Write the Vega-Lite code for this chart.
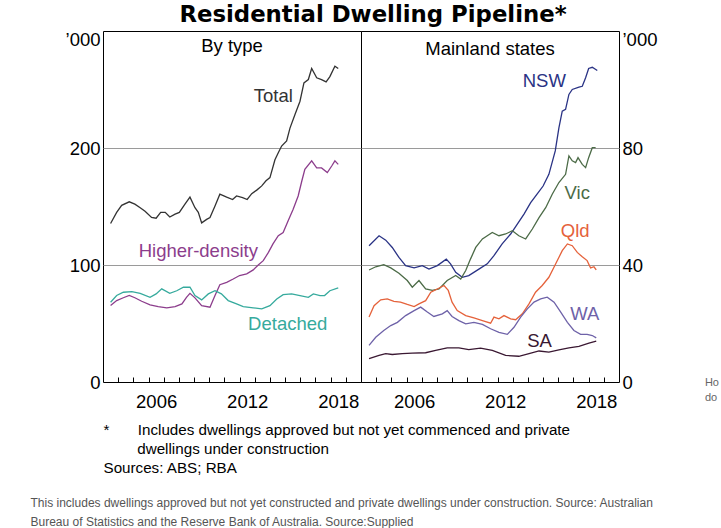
{
  "$schema": "https://vega.github.io/schema/vega-lite/v6.json",
  "background": "white",
  "padding": {"left": 30, "top": 4, "right": 0, "bottom": 0},
  "config": {
    "font": "Liberation Sans",
    "view": {"stroke": "black", "strokeWidth": 1},
    "axis": {"labelFont": "Liberation Sans", "labelFontSize": 18.5, "labelColor": "black", "domain": false, "ticks": false, "grid": false, "titleFont": "Liberation Sans"}
  },
  "datasets": {
    "byType": [
      {"series":"Total","year":2003.5,"value":135.5},{"series":"Total","year":2003.9,"value":145},{"series":"Total","year":2004.23,"value":151},{"series":"Total","year":2004.73,"value":154},{"series":"Total","year":2005.1,"value":152},{"series":"Total","year":2005.45,"value":149},{"series":"Total","year":2005.77,"value":146},{"series":"Total","year":2006.2,"value":140.6},{"series":"Total","year":2006.5,"value":140},{"series":"Total","year":2006.8,"value":145},{"series":"Total","year":2007.1,"value":145},{"series":"Total","year":2007.4,"value":141},{"series":"Total","year":2007.75,"value":143.5},{"series":"Total","year":2008.03,"value":145},{"series":"Total","year":2008.4,"value":152},{"series":"Total","year":2008.73,"value":158},{"series":"Total","year":2009.06,"value":149},{"series":"Total","year":2009.28,"value":145},{"series":"Total","year":2009.5,"value":136},{"series":"Total","year":2009.83,"value":139},{"series":"Total","year":2010.05,"value":140.6},{"series":"Total","year":2010.38,"value":150.5},{"series":"Total","year":2010.7,"value":160.5},{"series":"Total","year":2011.15,"value":158},{"series":"Total","year":2011.54,"value":156},{"series":"Total","year":2011.8,"value":159},{"series":"Total","year":2012.2,"value":157.6},{"series":"Total","year":2012.5,"value":156},{"series":"Total","year":2012.8,"value":161},{"series":"Total","year":2013.13,"value":164},{"series":"Total","year":2013.46,"value":167.6},{"series":"Total","year":2013.74,"value":172},{"series":"Total","year":2014.0,"value":174.7},{"series":"Total","year":2014.33,"value":190},{"series":"Total","year":2014.55,"value":196},{"series":"Total","year":2014.77,"value":201.7},{"series":"Total","year":2015.1,"value":206},{"series":"Total","year":2015.32,"value":217},{"series":"Total","year":2015.65,"value":228.7},{"series":"Total","year":2015.98,"value":240},{"series":"Total","year":2016.24,"value":255.6},{"series":"Total","year":2016.53,"value":258.5},{"series":"Total","year":2016.75,"value":268},{"series":"Total","year":2017.08,"value":260},{"series":"Total","year":2017.4,"value":258.5},{"series":"Total","year":2017.7,"value":256.5},{"series":"Total","year":2017.95,"value":261},{"series":"Total","year":2018.28,"value":270},{"series":"Total","year":2018.5,"value":268},
      {"series":"Higher-density","year":2003.5,"value":65.3},{"series":"Higher-density","year":2003.9,"value":69.6},{"series":"Higher-density","year":2004.34,"value":72},{"series":"Higher-density","year":2004.73,"value":74},{"series":"Higher-density","year":2005.1,"value":72},{"series":"Higher-density","year":2005.55,"value":69},{"series":"Higher-density","year":2006.1,"value":66},{"series":"Higher-density","year":2006.64,"value":64.5},{"series":"Higher-density","year":2007.2,"value":63.4},{"series":"Higher-density","year":2007.75,"value":64.5},{"series":"Higher-density","year":2008.2,"value":66.8},{"series":"Higher-density","year":2008.5,"value":72.4},{"series":"Higher-density","year":2008.73,"value":75.8},{"series":"Higher-density","year":2009.06,"value":71.9},{"series":"Higher-density","year":2009.5,"value":65.3},{"series":"Higher-density","year":2010.05,"value":63.9},{"series":"Higher-density","year":2010.38,"value":73.9},{"series":"Higher-density","year":2010.7,"value":83.2},{"series":"Higher-density","year":2011.15,"value":85.2},{"series":"Higher-density","year":2011.58,"value":88},{"series":"Higher-density","year":2012.0,"value":91},{"series":"Higher-density","year":2012.47,"value":92.4},{"series":"Higher-density","year":2012.9,"value":95.8},{"series":"Higher-density","year":2013.23,"value":100},{"series":"Higher-density","year":2013.56,"value":103.7},{"series":"Higher-density","year":2013.9,"value":110.8},{"series":"Higher-density","year":2014.2,"value":118},{"series":"Higher-density","year":2014.55,"value":125},{"series":"Higher-density","year":2014.87,"value":127.8},{"series":"Higher-density","year":2015.2,"value":137.8},{"series":"Higher-density","year":2015.53,"value":147.7},{"series":"Higher-density","year":2015.86,"value":159},{"series":"Higher-density","year":2016.1,"value":171.8},{"series":"Higher-density","year":2016.3,"value":181.8},{"series":"Higher-density","year":2016.75,"value":189},{"series":"Higher-density","year":2017.08,"value":183},{"series":"Higher-density","year":2017.4,"value":183},{"series":"Higher-density","year":2017.78,"value":179},{"series":"Higher-density","year":2018.07,"value":184.6},{"series":"Higher-density","year":2018.28,"value":189},{"series":"Higher-density","year":2018.5,"value":186},
      {"series":"Detached","year":2003.5,"value":68.2},{"series":"Detached","year":2003.9,"value":73.9},{"series":"Detached","year":2004.34,"value":76.7},{"series":"Detached","year":2004.9,"value":77.3},{"series":"Detached","year":2005.45,"value":75.8},{"series":"Detached","year":2006.1,"value":72.4},{"series":"Detached","year":2006.5,"value":75.3},{"series":"Detached","year":2006.87,"value":79.6},{"series":"Detached","year":2007.4,"value":75.8},{"series":"Detached","year":2007.86,"value":78},{"series":"Detached","year":2008.3,"value":81},{"series":"Detached","year":2008.73,"value":81},{"series":"Detached","year":2009.06,"value":73.9},{"series":"Detached","year":2009.5,"value":70.2},{"series":"Detached","year":2009.94,"value":75.3},{"series":"Detached","year":2010.38,"value":78},{"series":"Detached","year":2010.8,"value":75.3},{"series":"Detached","year":2011.25,"value":69.6},{"series":"Detached","year":2011.8,"value":66.8},{"series":"Detached","year":2012.24,"value":64.5},{"series":"Detached","year":2012.9,"value":63.4},{"series":"Detached","year":2013.46,"value":62.5},{"series":"Detached","year":2014.0,"value":65.3},{"series":"Detached","year":2014.45,"value":71},{"series":"Detached","year":2014.87,"value":74.7},{"series":"Detached","year":2015.43,"value":75.3},{"series":"Detached","year":2015.98,"value":73.9},{"series":"Detached","year":2016.53,"value":72.4},{"series":"Detached","year":2016.86,"value":75.3},{"series":"Detached","year":2017.3,"value":73.9},{"series":"Detached","year":2017.6,"value":73.9},{"series":"Detached","year":2017.95,"value":78},{"series":"Detached","year":2018.5,"value":80.4}
    ],
    "states": [
      {"series":"NSW","year":2003.53,"value":46.6},{"series":"NSW","year":2004.19,"value":50},{"series":"NSW","year":2004.63,"value":48.5},{"series":"NSW","year":2005.06,"value":46},{"series":"NSW","year":2005.5,"value":42.6},{"series":"NSW","year":2005.94,"value":39.8},{"series":"NSW","year":2006.5,"value":39},{"series":"NSW","year":2007.04,"value":39.8},{"series":"NSW","year":2007.48,"value":38.6},{"series":"NSW","year":2008.03,"value":39.8},{"series":"NSW","year":2008.62,"value":42},{"series":"NSW","year":2008.9,"value":40.4},{"series":"NSW","year":2009.24,"value":37.5},{"series":"NSW","year":2009.67,"value":35.8},{"series":"NSW","year":2010.1,"value":36.4},{"series":"NSW","year":2010.77,"value":38.6},{"series":"NSW","year":2011.32,"value":40.4},{"series":"NSW","year":2011.76,"value":43.2},{"series":"NSW","year":2012.3,"value":47.2},{"series":"NSW","year":2012.86,"value":50.6},{"series":"NSW","year":2013.3,"value":54},{"series":"NSW","year":2013.74,"value":57.4},{"series":"NSW","year":2014.18,"value":61.3},{"series":"NSW","year":2014.6,"value":64.2},{"series":"NSW","year":2015.0,"value":67},{"series":"NSW","year":2015.38,"value":71},{"series":"NSW","year":2015.8,"value":79},{"series":"NSW","year":2016.04,"value":86.9},{"series":"NSW","year":2016.26,"value":92.6},{"series":"NSW","year":2016.48,"value":93.2},{"series":"NSW","year":2016.7,"value":98.3},{"series":"NSW","year":2016.92,"value":100},{"series":"NSW","year":2017.36,"value":100.8},{"series":"NSW","year":2017.58,"value":101.1},{"series":"NSW","year":2017.8,"value":104},{"series":"NSW","year":2018.0,"value":107.2},{"series":"NSW","year":2018.24,"value":107.6},{"series":"NSW","year":2018.57,"value":106.5},
      {"series":"Vic","year":2003.53,"value":38.3},{"series":"Vic","year":2003.97,"value":39.4},{"series":"Vic","year":2004.5,"value":40.1},{"series":"Vic","year":2004.96,"value":39},{"series":"Vic","year":2005.5,"value":37.2},{"series":"Vic","year":2006.05,"value":34.7},{"series":"Vic","year":2006.38,"value":32.4},{"series":"Vic","year":2006.82,"value":34.7},{"series":"Vic","year":2007.26,"value":31.8},{"series":"Vic","year":2007.7,"value":31.3},{"series":"Vic","year":2008.14,"value":31.8},{"series":"Vic","year":2008.68,"value":34.7},{"series":"Vic","year":2009.24,"value":36.4},{"series":"Vic","year":2009.57,"value":35.2},{"series":"Vic","year":2009.9,"value":38.1},{"series":"Vic","year":2010.22,"value":42.1},{"series":"Vic","year":2010.56,"value":46},{"series":"Vic","year":2011.0,"value":48.9},{"series":"Vic","year":2011.32,"value":50},{"series":"Vic","year":2011.65,"value":51.1},{"series":"Vic","year":2012.09,"value":50},{"series":"Vic","year":2012.53,"value":50.6},{"series":"Vic","year":2012.97,"value":51.7},{"series":"Vic","year":2013.4,"value":50},{"series":"Vic","year":2013.85,"value":48.9},{"series":"Vic","year":2014.29,"value":52.3},{"series":"Vic","year":2014.73,"value":56.2},{"series":"Vic","year":2015.17,"value":59.6},{"series":"Vic","year":2015.6,"value":64.2},{"series":"Vic","year":2016.04,"value":68.2},{"series":"Vic","year":2016.48,"value":71},{"series":"Vic","year":2016.7,"value":77.3},{"series":"Vic","year":2016.92,"value":75.6},{"series":"Vic","year":2017.14,"value":75},{"series":"Vic","year":2017.3,"value":76.7},{"series":"Vic","year":2017.58,"value":74.4},{"series":"Vic","year":2017.8,"value":73.3},{"series":"Vic","year":2018.0,"value":76.7},{"series":"Vic","year":2018.24,"value":80.1},{"series":"Vic","year":2018.46,"value":80.1},
      {"series":"Qld","year":2003.53,"value":22.2},{"series":"Qld","year":2003.86,"value":26.1},{"series":"Qld","year":2004.3,"value":28.1},{"series":"Qld","year":2004.73,"value":28.4},{"series":"Qld","year":2005.17,"value":27.6},{"series":"Qld","year":2005.6,"value":27.3},{"series":"Qld","year":2006.05,"value":26.5},{"series":"Qld","year":2006.5,"value":25.8},{"series":"Qld","year":2006.82,"value":26.7},{"series":"Qld","year":2007.26,"value":27.8},{"series":"Qld","year":2007.6,"value":30.7},{"series":"Qld","year":2008.03,"value":31.8},{"series":"Qld","year":2008.47,"value":33},{"series":"Qld","year":2008.75,"value":31.3},{"series":"Qld","year":2009.0,"value":27.3},{"series":"Qld","year":2009.34,"value":24.4},{"series":"Qld","year":2009.9,"value":22.7},{"series":"Qld","year":2010.44,"value":21.9},{"series":"Qld","year":2011.0,"value":21},{"series":"Qld","year":2011.54,"value":20.1},{"series":"Qld","year":2011.76,"value":22.2},{"series":"Qld","year":2012.09,"value":21.6},{"series":"Qld","year":2012.42,"value":22.7},{"series":"Qld","year":2012.86,"value":21.6},{"series":"Qld","year":2013.19,"value":21.3},{"series":"Qld","year":2013.63,"value":23.3},{"series":"Qld","year":2014.07,"value":26.7},{"series":"Qld","year":2014.5,"value":30.7},{"series":"Qld","year":2014.94,"value":33},{"series":"Qld","year":2015.38,"value":35.8},{"series":"Qld","year":2015.83,"value":40.4},{"series":"Qld","year":2016.26,"value":44.9},{"series":"Qld","year":2016.6,"value":47.2},{"series":"Qld","year":2016.92,"value":46.6},{"series":"Qld","year":2017.25,"value":44.3},{"series":"Qld","year":2017.58,"value":42.8},{"series":"Qld","year":2017.9,"value":41.5},{"series":"Qld","year":2018.13,"value":39},{"series":"Qld","year":2018.35,"value":39.4},{"series":"Qld","year":2018.5,"value":38.3},
      {"series":"WA","year":2003.53,"value":12.5},{"series":"WA","year":2003.97,"value":15.3},{"series":"WA","year":2004.5,"value":17.6},{"series":"WA","year":2004.96,"value":19.3},{"series":"WA","year":2005.4,"value":20.4},{"series":"WA","year":2005.94,"value":22.7},{"series":"WA","year":2006.5,"value":24.4},{"series":"WA","year":2006.93,"value":25.6},{"series":"WA","year":2007.37,"value":23.9},{"series":"WA","year":2007.8,"value":22.4},{"series":"WA","year":2008.36,"value":23.3},{"series":"WA","year":2008.68,"value":24.4},{"series":"WA","year":2009.0,"value":22.4},{"series":"WA","year":2009.45,"value":21},{"series":"WA","year":2009.9,"value":19.9},{"series":"WA","year":2010.44,"value":20.4},{"series":"WA","year":2011.0,"value":19.7},{"series":"WA","year":2011.54,"value":18.2},{"series":"WA","year":2012.09,"value":17},{"series":"WA","year":2012.64,"value":16.3},{"series":"WA","year":2013.08,"value":18.7},{"series":"WA","year":2013.52,"value":22.2},{"series":"WA","year":2013.96,"value":25},{"series":"WA","year":2014.4,"value":27.3},{"series":"WA","year":2014.84,"value":28.4},{"series":"WA","year":2015.27,"value":29},{"series":"WA","year":2015.72,"value":27.3},{"series":"WA","year":2016.16,"value":23.9},{"series":"WA","year":2016.6,"value":20.4},{"series":"WA","year":2017.03,"value":17.6},{"series":"WA","year":2017.47,"value":16.3},{"series":"WA","year":2017.9,"value":16.3},{"series":"WA","year":2018.24,"value":15.9},{"series":"WA","year":2018.5,"value":15.1},
      {"series":"SA","year":2003.53,"value":8},{"series":"SA","year":2004.19,"value":9.1},{"series":"SA","year":2004.63,"value":9.7},{"series":"SA","year":2005.06,"value":9.4},{"series":"SA","year":2005.72,"value":9.7},{"series":"SA","year":2006.38,"value":9.9},{"series":"SA","year":2007.26,"value":10},{"series":"SA","year":2007.92,"value":10.8},{"series":"SA","year":2008.68,"value":11.7},{"series":"SA","year":2009.45,"value":11.7},{"series":"SA","year":2010.1,"value":11.1},{"series":"SA","year":2010.88,"value":11.6},{"series":"SA","year":2011.65,"value":10.8},{"series":"SA","year":2012.53,"value":9.1},{"series":"SA","year":2013.4,"value":8.8},{"series":"SA","year":2014.07,"value":9.7},{"series":"SA","year":2014.73,"value":10.6},{"series":"SA","year":2015.38,"value":10.2},{"series":"SA","year":2016.04,"value":11},{"series":"SA","year":2016.7,"value":11.7},{"series":"SA","year":2017.36,"value":12.2},{"series":"SA","year":2018.02,"value":13.3},{"series":"SA","year":2018.5,"value":14}
    ],
    "typeLabels": [
      {"series":"Total","year":2014.22,"value":244.3},
      {"series":"Higher-density","year":2009.28,"value":112.2},
      {"series":"Detached","year":2015.17,"value":49.8}
    ],
    "stateLabels": [
      {"series":"NSW","year":2015.08,"value":102.8},
      {"series":"Vic","year":2017.25,"value":64.6},
      {"series":"Qld","year":2017.11,"value":51.5},
      {"series":"WA","year":2017.74,"value":23.1},
      {"series":"SA","year":2014.76,"value":13.9}
    ],
    "typeHeading": [{"label":"By type","year":2011.5,"value":287}],
    "stateHeading": [{"label":"Mainland states","year":2011.5,"value":113.7}],
    "edgeText": [{"label":"Ho","year":2025.66,"value":-0.34},{"label":"do","year":2025.66,"value":-5.3}]
  },
  "title": {"text": "Residential Dwelling Pipeline*", "font": "DejaVu Sans", "fontSize": 22.8, "fontWeight": "bold", "color": "black", "anchor": "middle", "offset": 2.5, "dx": -2},
  "vconcat": [
    {
      "spacing": 0,
      "bounds": "flush",
      "title": {"text": ["This includes dwellings approved but not yet constructed and private dwellings under construction. Source: Australian", "Bureau of Statistics and the Reserve Bank of Australia.  Source:Supplied"], "orient": "bottom", "anchor": "start", "font": "Liberation Sans", "fontSize": 12, "fontWeight": "normal", "color": "#555555", "lineHeight": 19, "offset": 21.5, "dx": -34},
      "hconcat": [
        {
          "width": 258,
          "height": 351,
          "layer": [
            {
              "data": {"name": "byType"},
              "mark": {"type": "line", "strokeWidth": 1.3},
              "encoding": {
                "x": {"field": "year", "type": "quantitative", "scale": {"domain": [2003, 2020], "nice": false, "zero": false},
                  "axis": {"values": [2004,2005,2006,2007,2008,2009,2010,2011,2012,2013,2014,2015,2016,2017,2018,2019], "tickCount": 40, "labelExpr": "(datum.value - 2006) % 6 == 0 ? datum.value + '' : ''", "labelOffset": 7.6, "ticks": true, "tickSize": -5, "tickColor": "black", "labelPadding": 15, "labelFlush": false, "labelOverlap": false,
                    "title": ["*\u00a0\u00a0\u00a0\u00a0\u00a0\u00a0\u2009Includes dwellings approved but not yet commenced and private", "\u200b\u00a0\u00a0\u00a0\u00a0\u00a0\u00a0\u00a0\u00a0dwellings under construction", "Sources: ABS; RBA"],
                    "titleAnchor": "start", "titleAlign": "left", "titleFontSize": 15.2, "titleFontWeight": "normal", "titleColor": "black", "titleLineHeight": 19, "titlePadding": 12}},
                "y": {"field": "value", "type": "quantitative", "scale": {"domain": [0, 300], "nice": false},
                  "axis": {"values": [0,100,200,300], "labelExpr": "datum.value == 300 ? '\u2019000' : datum.label", "grid": true, "gridColor": "#9a9a9a", "gridOpacity": {"condition": {"test": "datum.value == 100 || datum.value == 200", "value": 1}, "value": 0}, "labelOffset": {"condition": {"test": "datum.value == 300", "value": 8}, "value": 0}, "labelPadding": 3, "title": null}},
                "color": {"field": "series", "type": "nominal", "legend": null,
                  "scale": {"domain": ["Total","Higher-density","Detached","NSW","Vic","Qld","WA","SA"], "range": ["#333333","#8c3d8c","#36aa9d","#2a3385","#4c6b47","#e5623b","#6e62a8","#3a1832"]}}
              }
            },
            {
              "data": {"name": "typeLabels"},
              "mark": {"type": "text", "fontSize": 18.5, "font": "Liberation Sans", "align": "center", "baseline": "middle"},
              "encoding": {
                "x": {"field": "year", "type": "quantitative"},
                "y": {"field": "value", "type": "quantitative"},
                "text": {"field": "series"},
                "color": {"field": "series", "type": "nominal", "legend": null}
              }
            },
            {
              "data": {"name": "typeHeading"},
              "mark": {"type": "text", "fontSize": 18.5, "font": "Liberation Sans", "align": "center", "baseline": "middle", "color": "black"},
              "encoding": {
                "x": {"field": "year", "type": "quantitative"},
                "y": {"field": "value", "type": "quantitative"},
                "text": {"field": "label"}
              }
            }
          ]
        },
        {
          "width": 258,
          "height": 351,
          "layer": [
            {
              "data": {"name": "states"},
              "mark": {"type": "line", "strokeWidth": 1.3},
              "encoding": {
                "x": {"field": "year", "type": "quantitative", "scale": {"domain": [2003, 2020], "nice": false, "zero": false},
                  "axis": {"values": [2004,2005,2006,2007,2008,2009,2010,2011,2012,2013,2014,2015,2016,2017,2018,2019], "tickCount": 40, "labelExpr": "(datum.value - 2006) % 6 == 0 ? datum.value + '' : ''", "labelOffset": 7.6, "ticks": true, "tickSize": -5, "tickColor": "black", "labelPadding": 15, "labelFlush": false, "labelOverlap": false, "title": null}},
                "y": {"field": "value", "type": "quantitative", "scale": {"domain": [0, 120], "nice": false},
                  "axis": {"orient": "right", "values": [0,40,80,120], "labelExpr": "datum.value == 120 ? '\u2019000' : datum.label", "grid": true, "gridColor": "#9a9a9a", "gridOpacity": {"condition": {"test": "datum.value == 40 || datum.value == 80", "value": 1}, "value": 0}, "labelOffset": {"condition": {"test": "datum.value == 120", "value": 8}, "value": 0}, "labelPadding": 3, "title": null}},
                "color": {"field": "series", "type": "nominal", "legend": null,
                  "scale": {"domain": ["Total","Higher-density","Detached","NSW","Vic","Qld","WA","SA"], "range": ["#333333","#8c3d8c","#36aa9d","#2a3385","#4c6b47","#e5623b","#6e62a8","#3a1832"]}}
              }
            },
            {
              "data": {"name": "stateLabels"},
              "mark": {"type": "text", "fontSize": 18.5, "font": "Liberation Sans", "align": "center", "baseline": "middle"},
              "encoding": {
                "x": {"field": "year", "type": "quantitative"},
                "y": {"field": "value", "type": "quantitative"},
                "text": {"field": "series"},
                "color": {"field": "series", "type": "nominal", "legend": null}
              }
            },
            {
              "data": {"name": "stateHeading"},
              "mark": {"type": "text", "fontSize": 18.5, "font": "Liberation Sans", "align": "center", "baseline": "middle", "color": "black"},
              "encoding": {
                "x": {"field": "year", "type": "quantitative"},
                "y": {"field": "value", "type": "quantitative"},
                "text": {"field": "label"}
              }
            },
            {
              "data": {"name": "edgeText"},
              "mark": {"type": "text", "fontSize": 11, "font": "Liberation Sans", "align": "left", "baseline": "middle", "color": "#666666"},
              "encoding": {
                "x": {"field": "year", "type": "quantitative"},
                "y": {"field": "value", "type": "quantitative"},
                "text": {"field": "label"}
              }
            }
          ]
        }
      ]
    }
  ]
}
